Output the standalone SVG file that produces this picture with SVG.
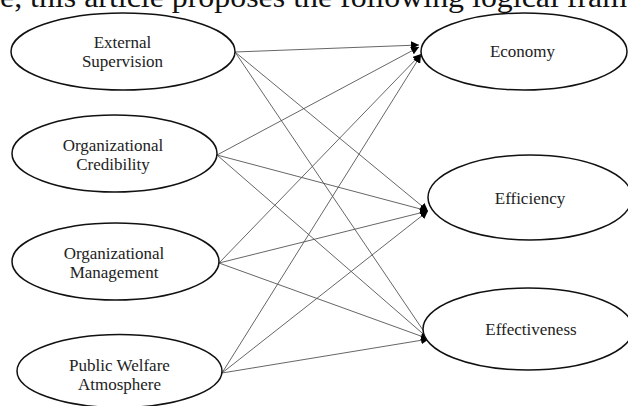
<svg xmlns="http://www.w3.org/2000/svg" width="628" height="406" viewBox="0 0 628 406">
  <style>
    .node ellipse { fill: #ffffff; stroke: #111111; stroke-width: 1.5; }
    .label { font-family: "Liberation Serif", "Times New Roman", serif; font-size: 17px; fill: #222222; text-anchor: middle; }
    .edges line { stroke: #555555; stroke-width: 0.9; marker-end: url(#arrow); }
    .caption { font-family: "Liberation Serif", "Times New Roman", serif; font-size: 29px; fill: #111111; }
  </style>
  <defs>
    <marker id="arrow" viewBox="0 0 10 10" refX="10" refY="5" markerWidth="8" markerHeight="8" markerUnits="userSpaceOnUse" orient="auto">
      <path d="M0,0 L10,5 L0,10 z" fill="#000000"/>
    </marker>
  </defs>
  <rect width="628" height="406" fill="#ffffff"/>
  <text class="caption" x="0" y="7" textLength="627" lengthAdjust="spacingAndGlyphs">e, this article proposes the following logical fram</text>

  <g class="edges">
    <line x1="235" y1="52" x2="419" y2="45"/>
    <line x1="235" y1="52" x2="428" y2="211"/>
    <line x1="235" y1="52" x2="429" y2="339"/>
    <line x1="217" y1="155" x2="419" y2="47"/>
    <line x1="217" y1="155" x2="428" y2="211"/>
    <line x1="217" y1="155" x2="429" y2="339"/>
    <line x1="219" y1="263" x2="421" y2="54"/>
    <line x1="219" y1="263" x2="428" y2="211"/>
    <line x1="219" y1="263" x2="429" y2="339"/>
    <line x1="222" y1="373" x2="421" y2="55"/>
    <line x1="222" y1="373" x2="428" y2="211"/>
    <line x1="222" y1="373" x2="429" y2="339"/>
  </g>

  <g id="external-supervision" class="node">
    <ellipse cx="123" cy="51.5" rx="112" ry="38.5"/>
    <text class="label" x="122.5" y="48">External</text>
    <text class="label" x="122.5" y="67">Supervision</text>
  </g>
  <g id="organizational-credibility" class="node">
    <ellipse cx="114.5" cy="153.5" rx="102.5" ry="38.5"/>
    <text class="label" x="113" y="150.5">Organizational</text>
    <text class="label" x="113" y="170">Credibility</text>
  </g>
  <g id="organizational-management" class="node">
    <ellipse cx="115.5" cy="261.5" rx="103.5" ry="38.5"/>
    <text class="label" x="114" y="258.5">Organizational</text>
    <text class="label" x="114" y="278">Management</text>
  </g>
  <g id="public-welfare-atmosphere" class="node">
    <ellipse cx="119.5" cy="371" rx="102.5" ry="36.5"/>
    <text class="label" x="119.5" y="371">Public Welfare</text>
    <text class="label" x="119.5" y="390">Atmosphere</text>
  </g>
  <g id="economy" class="node">
    <ellipse cx="524" cy="51.5" rx="103" ry="38.5"/>
    <text class="label" x="522.5" y="57">Economy</text>
  </g>
  <g id="efficiency" class="node">
    <ellipse cx="530" cy="197.5" rx="102" ry="42.5"/>
    <text class="label" x="530" y="204">Efficiency</text>
  </g>
  <g id="effectiveness" class="node">
    <ellipse cx="528" cy="329" rx="105" ry="41"/>
    <text class="label" x="531" y="335">Effectiveness</text>
  </g>
</svg>
